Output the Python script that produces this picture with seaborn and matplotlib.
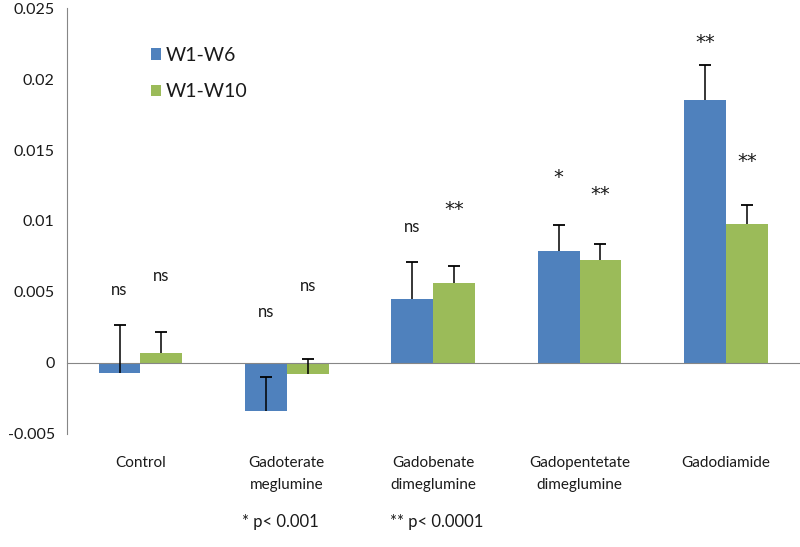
import matplotlib
matplotlib.use("Agg")
import matplotlib.pyplot as plt
import seaborn as sns
import pandas as pd
import numpy as np

# data
categories = ["Control", "Gadoterate\nmeglumine", "Gadobenate\ndimeglumine",
              "Gadopentetate\ndimeglumine", "Gadodiamide"]
series = ["W1-W6", "W1-W10"]
w6_values = [-0.0007, -0.0034, 0.0045, 0.0079, 0.0185]
w10_values = [0.0007, -0.0008, 0.0056, 0.00725, 0.0098]
w6_err = [0.0034, 0.0024, 0.0026, 0.0018, 0.0025]
w10_err = [0.0015, 0.0011, 0.0012, 0.0011, 0.0013]
w6_marks = ["ns", "ns", "ns", "*", "**"]
w10_marks = ["ns", "ns", "**", "**", "**"]
w6_mark_y = [0.0051, 0.0036, 0.0096, 0.0131, 0.0226]
w10_mark_y = [0.0061, 0.0054, 0.0108, 0.0119, 0.0142]
y_ticks = [-0.005, 0, 0.005, 0.01, 0.015, 0.02, 0.025]

colors = {"W1-W6": "#4F81BD", "W1-W10": "#9BBB59"}
axis_gray = "#868686"
text_color = "#1a1a1a"

sns.set_style("white")
plt.rcParams['font.family'] = ['Lato', 'DejaVu Sans']
plt.rcParams['font.size'] = 11

df = pd.DataFrame({
    "category": categories * 2,
    "series": [series[0]] * 5 + [series[1]] * 5,
    "value": w6_values + w10_values,
})

fig = plt.figure(figsize=(8, 5.47), dpi=100)
ax = fig.add_axes([0.084, 0.207, 0.915, 0.778])

sns.barplot(data=df, x="category", y="value", hue="series", order=categories,
            hue_order=series, palette=colors, width=0.57, gap=0,
            errorbar=None, saturation=1, linewidth=0, ax=ax)

# positive-only error bars with a cap on top
n = len(categories)
x_w6 = np.array([p.get_x() + p.get_width() / 2 for p in ax.patches[:n]])
x_w10 = np.array([p.get_x() + p.get_width() / 2 for p in ax.patches[n:2 * n]])
for xs, vals, errs in [(x_w6, w6_values, w6_err), (x_w10, w10_values, w10_err)]:
    vals = np.array(vals)
    tops = vals + np.array(errs)
    ax.vlines(xs, vals, tops, color="black", lw=1.1, zorder=4)
    ax.plot(xs, tops, ls="none", marker="_", ms=8, mew=1.3, color="black", zorder=4)

# significance labels
for xs, marks, ys in [(x_w6, w6_marks, w6_mark_y), (x_w10, w10_marks, w10_mark_y)]:
    for x, m, y in zip(xs, marks, ys):
        if m == "ns":
            ax.text(x, y, m, ha="center", va="center", fontsize=12, color=text_color)
        else:
            ax.text(x, y, m, ha="center", va="center", fontsize=14,
                    family="DejaVu Sans", color=text_color)

ax.set_ylim(-0.005, 0.025)
ax.set_xlim(-0.5, n - 0.5)
ax.set_yticks(y_ticks)
ax.set_yticklabels([f"{v:g}" for v in y_ticks])
ax.set_xlabel("")
ax.set_ylabel("")

# zero line with tick marks between categories
for s in ["top", "right"]:
    ax.spines[s].set_visible(False)
ax.spines["left"].set_color(axis_gray)
ax.spines["bottom"].set_position(("data", 0))
ax.spines["bottom"].set_color(axis_gray)
ax.set_xticks(np.arange(n + 1) - 0.5)
ax.set_xticklabels([])
ax.tick_params(axis="x", direction="out", length=6, color=axis_gray, width=1)
ax.tick_params(axis="y", direction="out", length=5, width=1,
               labelsize=11.5, pad=4, labelcolor=text_color, color=axis_gray)

# category labels at the bottom of the plot area
sec = ax.secondary_xaxis(location=0)
sec.set_xticks(np.arange(n))
sec.set_xticklabels(categories, linespacing=1.7, color=text_color, fontsize=11)
sec.tick_params(length=0, pad=16)
sec.spines["bottom"].set_visible(False)

leg = ax.legend(loc="upper left", bbox_to_anchor=(0.09, 0.95), frameon=False,
                handlelength=0.55, handleheight=0.55, labelspacing=1.0,
                handletextpad=0.25, fontsize=14)
for t in leg.get_texts():
    t.set_color(text_color)

fig.text(0.35, 0.045, "* p< 0.001", ha="center", va="center", fontsize=12, color=text_color)
fig.text(0.546, 0.045, "** p< 0.0001", ha="center", va="center", fontsize=12, color=text_color)

fig.savefig("out.png", dpi=100)
